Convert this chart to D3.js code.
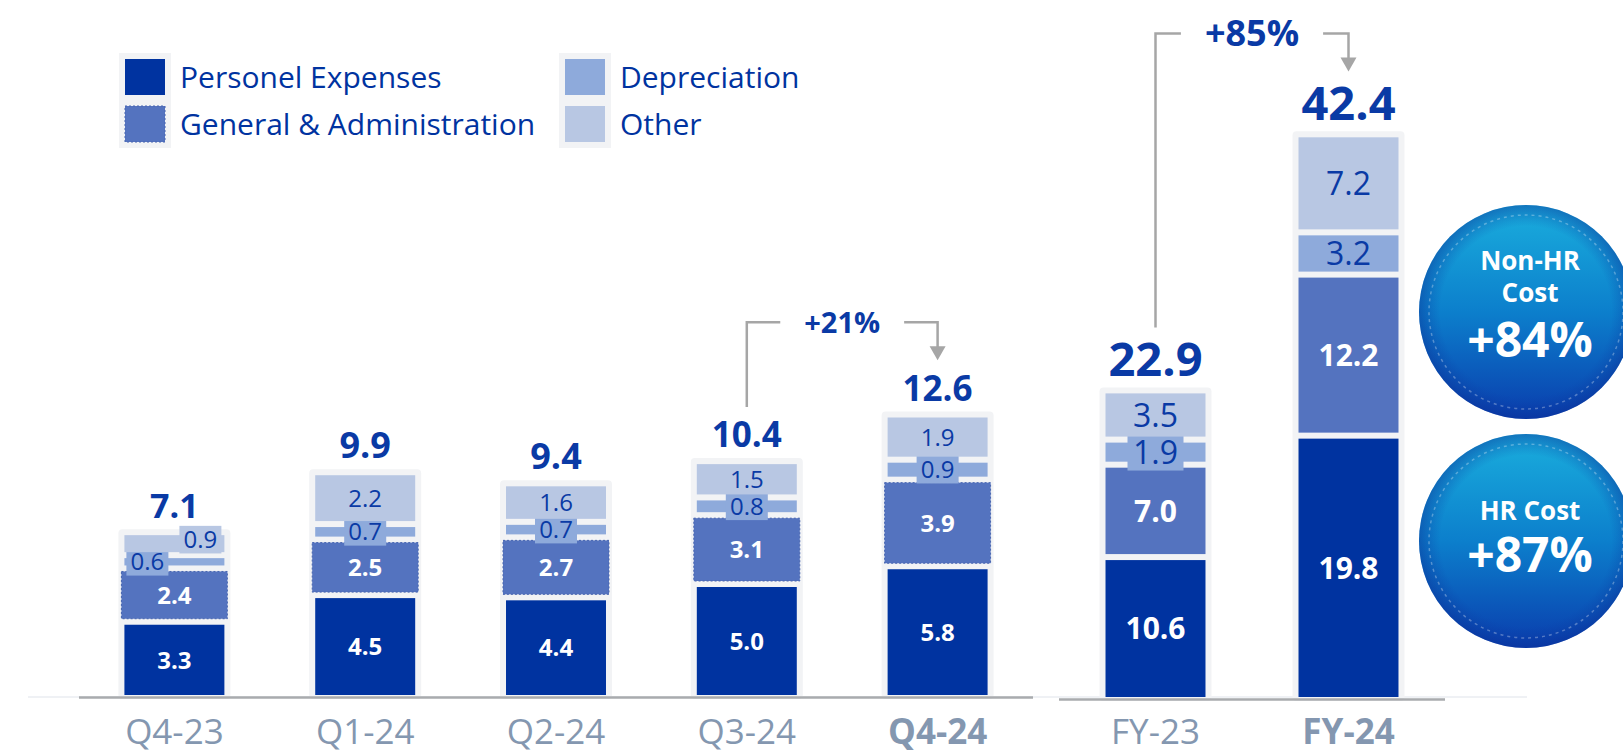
<!DOCTYPE html>
<html lang="en">
<head>
<meta charset="UTF-8">
<title>Operating expenses</title>
<script src="https://d3js.org/d3.v7.min.js"></script>
<style>
  body { margin: 0; background: #fff; }
  text { font-family: "Open Sans", "Noto Sans", sans-serif; }
</style>
</head>
<body>
<script>
// quarterly data
const quarters = ["Q4-23", "Q1-24", "Q2-24", "Q3-24", "Q4-24"];
const qPersonnel = [3.3, 4.5, 4.4, 5.0, 5.8];
const qGA = [2.4, 2.5, 2.7, 3.1, 3.9];
const qDepreciation = [0.6, 0.7, 0.7, 0.8, 0.9];
const qOther = [0.9, 2.2, 1.6, 1.5, 1.9];
const qTotals = [7.1, 9.9, 9.4, 10.4, 12.6];

// full year data
const years = ["FY-23", "FY-24"];
const fyPersonnel = [10.6, 19.8];
const fyGA = [7.0, 12.2];
const fyDepreciation = [1.9, 3.2];
const fyOther = [3.5, 7.2];
const fyTotals = [22.9, 42.4];

const seriesNames = ["Personel Expenses", "General & Administration", "Depreciation", "Other"];
const boldTicks = ["Q4-24", "FY-24"];
const growth = [
  { from: "Q3-24", to: "Q4-24", label: "+21%" },
  { from: "FY-23", to: "FY-24", label: "+85%" }
];
const bubbles = [
  { title: ["Non-HR", "Cost"], value: "+84%" },
  { title: ["HR Cost"], value: "+87%" }
];

const keys = ["personnel", "ga", "depreciation", "other"];
const colors = { personnel: "#0033a0", ga: "#5473bf", depreciation: "#8eaadb", other: "#b8c7e3" };
const darkText = "#0a3aa5";
const W = 1623, H = 754;

const svg = d3.select("body").append("svg").attr("width", W).attr("height", H);

const defs = svg.append("defs");
const grad = defs.append("linearGradient").attr("id", "bub").attr("x1", 0).attr("y1", 0).attr("x2", 0).attr("y2", 1);
grad.append("stop").attr("offset", "0%").attr("stop-color", "#1aaedd");
grad.append("stop").attr("offset", "50%").attr("stop-color", "#0c7fcc");
grad.append("stop").attr("offset", "100%").attr("stop-color", "#0a3dad");
const rg = defs.append("radialGradient").attr("id", "bubEdge").attr("cx", "50%").attr("cy", "50%").attr("r", "50%");
rg.append("stop").attr("offset", "80%").attr("stop-color", "#0a3aa5").attr("stop-opacity", 0);
rg.append("stop").attr("offset", "100%").attr("stop-color", "#0a2f95").attr("stop-opacity", 0.45);

// thin light baseline behind everything
svg.append("line").attr("x1", 28).attr("x2", 1527).attr("y1", 697).attr("y2", 697)
  .attr("stroke", "#dfe3ea").attr("stroke-width", 1);

const xQ = d3.scaleBand().domain(quarters).range([79, 1033]).paddingInner(0.476).paddingOuter(0.238);
const yQ = d3.scaleLinear().domain([0, 14]).range([695, 695 - 14 * 22.2]);
const xA = d3.scaleBand().domain(years).range([1059, 1445]).paddingInner(0.482).paddingOuter(0.241);
const yA = d3.scaleLinear().domain([0, 45]).range([697, 697 - 45 * 13.2]);

function rowsOf(cats, p, g, d, o) {
  return cats.map((c, i) => ({ cat: c, personnel: p[i], ga: g[i], depreciation: d[i], other: o[i] }));
}

const topLabel = {}; // y of the top of each total label, used by the arrows

function drawStack(rows, totals, x, y, opt) {
  const stacked = d3.stack().keys(keys)(rows);
  const g = svg.append("g");
  const base = y(0);
  const bw = x.bandwidth();

  // grey panel
  g.selectAll("rect.panel").data(rows).enter().append("rect")
    .attr("x", d => x(d.cat) - 6)
    .attr("width", bw + 12)
    .attr("y", d => y(keys.reduce((s, k) => s + d[k], 0)) - 6)
    .attr("height", d => base - y(keys.reduce((s, k) => s + d[k], 0)) + 10)
    .attr("rx", 4)
    .attr("fill", "#f2f3f5");

  stacked.forEach((layer, li) => {
    const key = layer.key;
    const last = li === keys.length - 1;
    const widen = (key === "ga" && opt.widenGA) ? 3 : 0;
    const segs = g.selectAll("rect." + key).data(layer).enter().append("rect")
      .attr("x", d => x(d.data.cat) - widen)
      .attr("width", bw + widen * 2)
      .attr("y", d => y(d[1]) + (last ? 0 : 3))
      .attr("height", d => (y(d[0]) - (li === 0 ? 0 : 3)) - (y(d[1]) + (last ? 0 : 3)))
      .attr("fill", colors[key]);
    if (widen) segs.attr("stroke", "#4664b0").attr("stroke-width", 1).attr("stroke-dasharray", "2,2");

    layer.forEach(d => {
      const cx = x(d.data.cat) + bw / 2;
      const top = y(d[1]) + (last ? 0 : 3);
      const bot = y(d[0]) - (li === 0 ? 0 : 3);
      let cy = (top + bot) / 2;
      const val = d.data[key];
      const light = key === "depreciation" || key === "other";
      const nudge = (opt.nudge[d.data.cat] || {})[key] || [0, 0];
      const fs = light ? opt.lightSize : opt.boldSize;
      const lx = cx + nudge[0];
      cy += nudge[1];
      if (light && bot - top < 30) {
        const boxW = fs * 1.75, boxH = fs * 1.15;
        g.append("rect").attr("x", lx - boxW / 2).attr("y", cy - boxH / 2)
          .attr("width", boxW).attr("height", boxH).attr("fill", colors[key]);
      }
      g.append("text").attr("x", lx).attr("y", cy + fs * 0.36)
        .attr("text-anchor", "middle")
        .attr("font-size", fs).attr("font-weight", light ? 400 : 700)
        .attr("fill", light ? darkText : "#fff")
        .text(val.toFixed(1));
    });
  });

  // totals
  rows.forEach((d, i) => {
    const t = keys.reduce((s, k) => s + d[k], 0);
    const ty = y(t) - 17;
    const fs = opt.totalSize[i];
    topLabel[d.cat] = { x: x(d.cat) + bw / 2, y: ty - fs * 0.72 };
    g.append("text").attr("x", x(d.cat) + bw / 2).attr("y", ty)
      .attr("text-anchor", "middle").attr("font-size", fs).attr("font-weight", 700)
      .attr("fill", darkText).text(totals[i].toFixed(1));
  });

  // baseline + category axis
  svg.append("line").attr("x1", x.range()[0]).attr("x2", x.range()[1])
    .attr("y1", base + 2.5).attr("y2", base + 2.5)
    .attr("stroke", "#a9abae").attr("stroke-width", 2.5);
  const ax = svg.append("g").attr("transform", `translate(0,${base + 2})`)
    .call(d3.axisBottom(x).tickSize(0).tickPadding(opt.tickPad));
  ax.select(".domain").remove();
  ax.selectAll("text")
    .attr("font-size", 35)
    .attr("fill", "#8497b0")
    .attr("font-weight", d => boldTicks.includes(d) ? 700 : 400)
    .style("font-family", "'Open Sans', sans-serif");
}

drawStack(rowsOf(quarters, qPersonnel, qGA, qDepreciation, qOther), qTotals, xQ, yQ, {
  boldSize: 24, lightSize: 24, totalSize: [34, 36, 36, 35, 35], widenGA: true, tickPad: 22,
  nudge: { "Q4-23": { depreciation: [-27, 0], other: [26, -4] } }
});
drawStack(rowsOf(years, fyPersonnel, fyGA, fyDepreciation, fyOther), fyTotals, xA, yA, {
  boldSize: 30, lightSize: 32, totalSize: [47, 47], widenGA: false, tickPad: 20,
  nudge: {}
});

// growth arrows
growth.forEach(gw => {
  const a = topLabel[gw.from], b = topLabel[gw.to];
  const tipY = b.y - 15;
  const lineY = tipY - 38;
  const mid = (a.x + b.x) / 2;
  const fs = gw.from.startsWith("FY") ? 36 : 29;
  const g = svg.append("g");
  const txt = g.append("text").attr("x", mid).attr("y", lineY + fs * 0.36)
    .attr("text-anchor", "middle").attr("font-size", fs).attr("font-weight", 700)
    .attr("fill", darkText).text(gw.label);
  const half = txt.node().getComputedTextLength() / 2 + 24;
  g.append("path")
    .attr("d", `M${a.x},${a.y - 15}V${lineY}H${mid - half}`)
    .attr("fill", "none").attr("stroke", "#a6a6a6").attr("stroke-width", 2.5);
  g.append("path")
    .attr("d", `M${mid + half},${lineY}H${b.x}V${tipY - 12}`)
    .attr("fill", "none").attr("stroke", "#a6a6a6").attr("stroke-width", 2.5);
  g.append("path")
    .attr("d", `M${b.x - 8},${tipY - 14}L${b.x + 8},${tipY - 14}L${b.x},${tipY}Z`)
    .attr("fill", "#a6a6a6");
});

// legend
const legend = svg.append("g");
seriesNames.forEach((name, i) => {
  const col = Math.floor(i / 2), row = i % 2;
  const lx = col === 0 ? 125 : 565;
  const ly = 77 + row * 47;
  const key = keys[i];
  legend.append("rect").attr("x", lx - 6).attr("y", ly - 24).attr("width", 52).attr("height", 48)
    .attr("fill", "#f2f3f5");
  const sw = legend.append("rect").attr("x", lx).attr("y", ly - 18).attr("width", 40).attr("height", 36)
    .attr("fill", colors[key]);
  if (key === "ga") sw.attr("stroke", "#4664b0").attr("stroke-dasharray", "2,2");
  legend.append("text").attr("x", lx + 55).attr("y", ly + 10.5)
    .attr("font-size", 30).attr("fill", "#0033a0").text(name);
});

// bubbles on the right
const bubbleCy = [312, 541];
bubbles.forEach((bb, i) => {
  const cx = 1526, cy = bubbleCy[i], r = 107;
  const g = svg.append("g");
  g.append("circle").attr("cx", cx).attr("cy", cy).attr("r", r).attr("fill", "url(#bub)");
  g.append("circle").attr("cx", cx).attr("cy", cy).attr("r", r).attr("fill", "url(#bubEdge)");
  g.append("circle").attr("cx", cx).attr("cy", cy).attr("r", r - 10).attr("fill", "none")
    .attr("stroke", "rgba(255,255,255,0.3)").attr("stroke-width", 1.5).attr("stroke-dasharray", "3,4");
  const tx = cx + 4;
  if (bb.title.length === 2) {
    g.append("text").attr("x", tx).attr("y", cy - 42).attr("text-anchor", "middle").attr("font-size", 26)
      .attr("font-weight", 700).attr("fill", "#fff").text(bb.title[0]);
    g.append("text").attr("x", tx).attr("y", cy - 10).attr("text-anchor", "middle").attr("font-size", 26)
      .attr("font-weight", 700).attr("fill", "#fff").text(bb.title[1]);
    g.append("text").attr("x", tx).attr("y", cy + 45).attr("text-anchor", "middle").attr("font-size", 48)
      .attr("font-weight", 700).attr("fill", "#fff").text(bb.value);
  } else {
    g.append("text").attr("x", tx).attr("y", cy - 21).attr("text-anchor", "middle").attr("font-size", 26)
      .attr("font-weight", 700).attr("fill", "#fff").text(bb.title[0]);
    g.append("text").attr("x", tx).attr("y", cy + 31).attr("text-anchor", "middle").attr("font-size", 48)
      .attr("font-weight", 700).attr("fill", "#fff").text(bb.value);
  }
});
</script>
</body>
</html>
